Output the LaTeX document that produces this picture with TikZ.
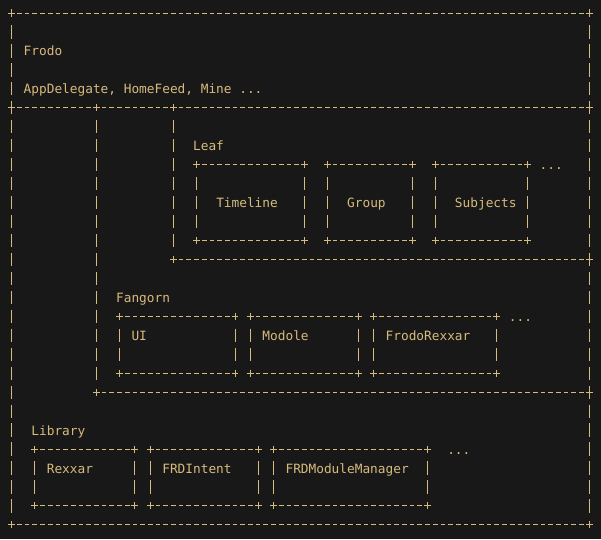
\documentclass[tikz,border=0pt]{standalone}
\usepackage{fontspec}
\usepackage{tikz}
\newfontfamily\codefont{DejaVu Sans Mono}
\definecolor{bg}{RGB}{24,24,24}
\definecolor{ink}{RGB}{215,186,125}
\tikzset{
  hdash/.style={dash pattern=on 4.7pt off 3pt},
  vbar/.style={dash pattern=on 13.3pt off 5.66pt},
  label/.style={anchor=base west,text=ink,font=\codefont\fontsize{12.79}{15}\selectfont}
}
\newcommand{\hdashes}[3]{\draw[hdash] (#2+0.695,#1) -- (#3-0.695,#1);}
\newcommand{\vbars}[3]{\draw[vbar] (#1,#2+0.649) -- (#1,#3-0.649);}
\newcommand{\crossat}[2]{\draw (#1-0.45,#2) -- (#1+0.45,#2) (#1,#2-0.185) -- (#1,#2+0.185);}
\newcommand{\asciibox}[4]{\crossat{#1}{#2}\crossat{#3}{#2}\crossat{#1}{#4}\crossat{#3}{#4}%
  \hdashes{#2}{#1}{#3}\hdashes{#4}{#1}{#3}\vbars{#1}{#2}{#4}\vbars{#3}{#2}{#4}}
\begin{document}
\begin{tikzpicture}[x=7.7pt,y=-18.96pt,line width=1pt,draw=ink]
			\tikzstyle{every node}+=[inner sep=0pt]
			\fill [bg] (-1.519,-0.686) rectangle (76.532,27.743);
			\useasboundingbox (-1.519,-0.686) rectangle (76.532,27.743);
			\asciibox{0}{0}{75}{27}
			\hdashes{5}{0}{11} \hdashes{5}{11}{21} \hdashes{5}{21}{75}
			\crossat{0}{5} \crossat{11}{5} \crossat{21}{5} \crossat{75}{5}
			\vbars{11}{5}{20} \vbars{21}{5}{13}
			\hdashes{13}{21}{75} \crossat{21}{13} \crossat{75}{13}
			\hdashes{20}{11}{75} \crossat{11}{20} \crossat{75}{20}
			\foreach \a/\b in {24/38,41/52,55/67} {\asciibox{\a}{8}{\b}{12}}
			\foreach \a/\b in {14/29,31/45,47/63} {\asciibox{\a}{16}{\b}{19}}
			\foreach \a/\b in {3/16,18/32,34/54} {\asciibox{\a}{23}{\b}{26}}
			\draw (1.5,2.264) node[label] (frodo) {Frodo};
			\draw (1.5,4.264) node[label] (appline) {AppDelegate, HomeFeed, Mine ...};
			\draw (23.5,7.264) node[label] (leaf) {Leaf};
			\draw (26.5,10.264) node[label] (timeline) {Timeline};
			\draw (43.5,10.264) node[label] (group) {Group};
			\draw (57.5,10.264) node[label] (subjects) {Subjects};
			\draw (68.5,8.264) node[label] (leafmore) {...};
			\draw (13.5,15.264) node[label] (fangorn) {Fangorn};
			\draw (15.5,17.264) node[label] (ui) {UI};
			\draw (32.5,17.264) node[label] (modole) {Modole};
			\draw (48.5,17.264) node[label] (frodorexxar) {FrodoRexxar};
			\draw (64.5,16.264) node[label] (fangornmore) {...};
			\draw (2.5,22.264) node[label] (library) {Library};
			\draw (4.5,24.264) node[label] (rexxar) {Rexxar};
			\draw (19.5,24.264) node[label] (frdintent) {FRDIntent};
			\draw (35.5,24.264) node[label] (frdmodulemanager) {FRDModuleManager};
			\draw (56.5,23.264) node[label] (librarymore) {...};
\end{tikzpicture}
\end{document}
